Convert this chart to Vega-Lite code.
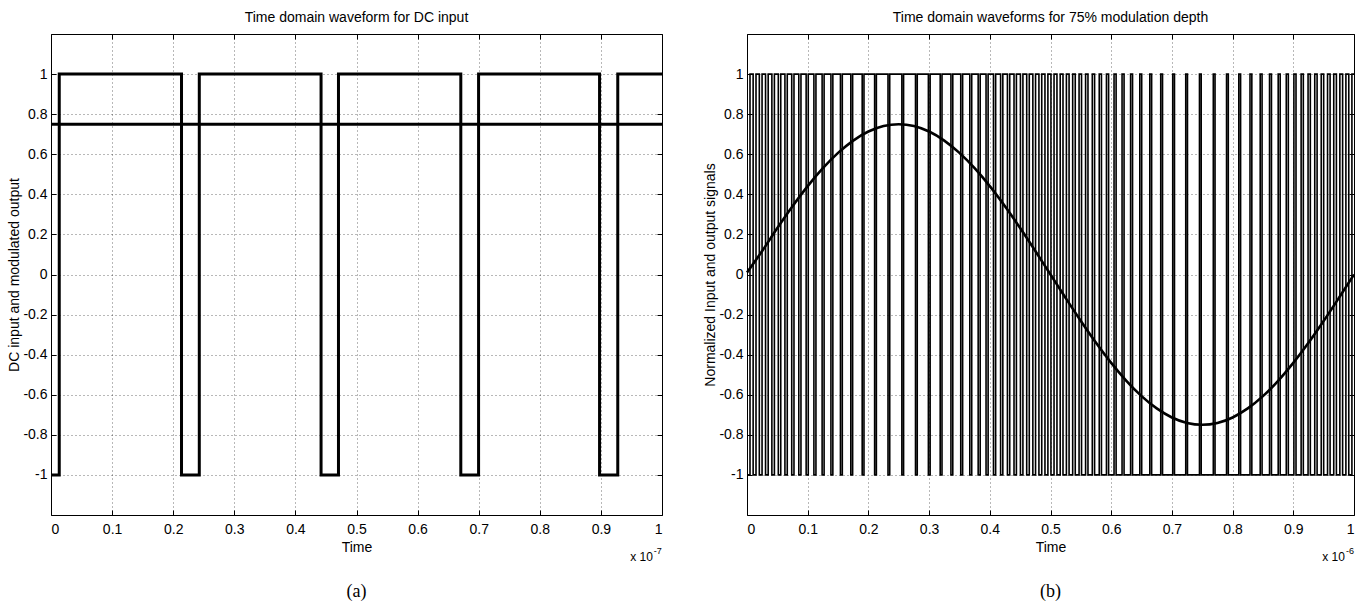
{
  "$schema": "https://vega.github.io/schema/vega-lite/v6.json",
  "background": "white",
  "padding": {"left": 7, "top": 10, "right": 6, "bottom": 2},
  "bounds": "flush",
  "spacing": 85,
  "config": {
    "font": "Liberation Sans",
    "view": {"stroke": "black", "strokeWidth": 1},
    "title": {"font": "Liberation Sans", "fontSize": 14, "fontWeight": "normal", "color": "black", "offset": 9},
    "axis": {
      "labelFont": "Liberation Sans", "labelFontSize": 14, "labelColor": "black",
      "titleFont": "Liberation Sans", "titleFontSize": 14, "titleFontWeight": "normal", "titleColor": "black",
      "domain": false, "tickColor": "black", "tickSize": -5, "tickWidth": 1,
      "gridColor": "black", "gridDash": [1, 3], "gridOpacity": 0.7, "gridWidth": 0.8
    }
  },
  "datasets": {
    "sqA": [
      {"t": 0, "v": -1}, {"t": 0.0135, "v": 1}, {"t": 0.2136, "v": -1}, {"t": 0.2427, "v": 1},
      {"t": 0.442, "v": -1}, {"t": 0.4705, "v": 1}, {"t": 0.6707, "v": -1}, {"t": 0.6998, "v": 1},
      {"t": 0.8978, "v": -1}, {"t": 0.9276, "v": 1}, {"t": 1.0, "v": 1}
    ],
    "dcA": [{"t": 0, "v": 0.75}, {"t": 1, "v": 0.75}],
    "capA": [{"t": 0.5, "y": -1.585, "label": "(a)", "e1": "x 10", "e2": "-7", "te": 0.985, "ye": -1.41}],
    "capB": [{"t": 0.5, "y": -1.585, "label": "(b)", "e1": "x 10", "e2": "-6", "te": 0.985, "ye": -1.41}],
    "sine": [
      {"t": 0, "v": 0.01}, {"t": 0.025, "v": 0.1173}, {"t": 0.05, "v": 0.2318}, {"t": 0.075, "v": 0.3405},
      {"t": 0.1, "v": 0.4408}, {"t": 0.125, "v": 0.5303}, {"t": 0.15, "v": 0.6068}, {"t": 0.175, "v": 0.6683},
      {"t": 0.2, "v": 0.7133}, {"t": 0.225, "v": 0.7408}, {"t": 0.25, "v": 0.75}, {"t": 0.275, "v": 0.7408},
      {"t": 0.3, "v": 0.7133}, {"t": 0.325, "v": 0.6683}, {"t": 0.35, "v": 0.6068}, {"t": 0.375, "v": 0.5303},
      {"t": 0.4, "v": 0.4408}, {"t": 0.425, "v": 0.3405}, {"t": 0.45, "v": 0.2318}, {"t": 0.475, "v": 0.1173},
      {"t": 0.5, "v": 0}, {"t": 0.525, "v": -0.1173}, {"t": 0.55, "v": -0.2318}, {"t": 0.575, "v": -0.3405},
      {"t": 0.6, "v": -0.4408}, {"t": 0.625, "v": -0.5303}, {"t": 0.65, "v": -0.6068}, {"t": 0.675, "v": -0.6683},
      {"t": 0.7, "v": -0.7133}, {"t": 0.725, "v": -0.7408}, {"t": 0.75, "v": -0.75}, {"t": 0.775, "v": -0.7408},
      {"t": 0.8, "v": -0.7133}, {"t": 0.825, "v": -0.6683}, {"t": 0.85, "v": -0.6068}, {"t": 0.875, "v": -0.5303},
      {"t": 0.9, "v": -0.4408}, {"t": 0.925, "v": -0.3405}, {"t": 0.95, "v": -0.2318}, {"t": 0.975, "v": -0.1173},
      {"t": 1.0, "v": 0}
    ],
    "sqB": [
      {"t": 0, "v": -1}, {"t": 0.00494, "v": 1}, {"t": 0.01012, "v": -1}, {"t": 0.01484, "v": 1},
      {"t": 0.02029, "v": -1}, {"t": 0.02481, "v": 1}, {"t": 0.03056, "v": -1}, {"t": 0.0349, "v": 1},
      {"t": 0.04097, "v": -1}, {"t": 0.04514, "v": 1}, {"t": 0.05159, "v": -1}, {"t": 0.0556, "v": 1},
      {"t": 0.06247, "v": -1}, {"t": 0.06633, "v": 1}, {"t": 0.07368, "v": -1}, {"t": 0.0774, "v": 1},
      {"t": 0.0853, "v": -1}, {"t": 0.0889, "v": 1}, {"t": 0.09744, "v": -1}, {"t": 0.10092, "v": 1},
      {"t": 0.11021, "v": -1}, {"t": 0.11358, "v": 1}, {"t": 0.12376, "v": -1}, {"t": 0.12702, "v": 1},
      {"t": 0.13826, "v": -1}, {"t": 0.14143, "v": 1}, {"t": 0.15394, "v": -1}, {"t": 0.15702, "v": 1},
      {"t": 0.17103, "v": -1}, {"t": 0.17404, "v": 1}, {"t": 0.18977, "v": -1}, {"t": 0.19271, "v": 1},
      {"t": 0.21025, "v": -1}, {"t": 0.21314, "v": 1}, {"t": 0.23228, "v": -1}, {"t": 0.23514, "v": 1},
      {"t": 0.25511, "v": -1}, {"t": 0.25797, "v": 1}, {"t": 0.2776, "v": -1}, {"t": 0.28048, "v": 1},
      {"t": 0.2988, "v": -1}, {"t": 0.30172, "v": 1}, {"t": 0.31827, "v": -1}, {"t": 0.32125, "v": 1},
      {"t": 0.33597, "v": -1}, {"t": 0.33902, "v": 1}, {"t": 0.35213, "v": -1}, {"t": 0.35526, "v": 1},
      {"t": 0.36701, "v": -1}, {"t": 0.37023, "v": 1}, {"t": 0.38084, "v": -1}, {"t": 0.38416, "v": 1},
      {"t": 0.39381, "v": -1}, {"t": 0.39724, "v": 1}, {"t": 0.40608, "v": -1}, {"t": 0.40963, "v": 1},
      {"t": 0.41779, "v": -1}, {"t": 0.42146, "v": 1}, {"t": 0.42903, "v": -1}, {"t": 0.43283, "v": 1},
      {"t": 0.43989, "v": -1}, {"t": 0.44383, "v": 1}, {"t": 0.45045, "v": -1}, {"t": 0.45455, "v": 1},
      {"t": 0.46078, "v": -1}, {"t": 0.46504, "v": 1}, {"t": 0.47092, "v": -1}, {"t": 0.47536, "v": 1},
      {"t": 0.48093, "v": -1}, {"t": 0.48557, "v": 1}, {"t": 0.49086, "v": -1}, {"t": 0.49571, "v": 1},
      {"t": 0.50075, "v": -1}, {"t": 0.50583, "v": 1}, {"t": 0.51064, "v": -1}, {"t": 0.51598, "v": 1},
      {"t": 0.52058, "v": -1}, {"t": 0.5262, "v": 1}, {"t": 0.53061, "v": -1}, {"t": 0.53654, "v": 1},
      {"t": 0.54078, "v": -1}, {"t": 0.54706, "v": 1}, {"t": 0.55113, "v": -1}, {"t": 0.55781, "v": 1},
      {"t": 0.56173, "v": -1}, {"t": 0.56886, "v": 1}, {"t": 0.57264, "v": -1}, {"t": 0.58029, "v": 1},
      {"t": 0.58394, "v": -1}, {"t": 0.59219, "v": 1}, {"t": 0.59572, "v": -1}, {"t": 0.60468, "v": 1},
      {"t": 0.60809, "v": -1}, {"t": 0.61788, "v": 1}, {"t": 0.62119, "v": -1}, {"t": 0.63196, "v": 1},
      {"t": 0.63517, "v": -1}, {"t": 0.64713, "v": 1}, {"t": 0.65025, "v": -1}, {"t": 0.66359, "v": 1},
      {"t": 0.66663, "v": -1}, {"t": 0.6816, "v": 1}, {"t": 0.68457, "v": -1}, {"t": 0.70135, "v": 1},
      {"t": 0.70426, "v": -1}, {"t": 0.72279, "v": 1}, {"t": 0.72566, "v": -1}, {"t": 0.74542, "v": 1},
      {"t": 0.74828, "v": -1}, {"t": 0.7682, "v": 1}, {"t": 0.77107, "v": -1}, {"t": 0.79002, "v": 1},
      {"t": 0.79292, "v": -1}, {"t": 0.81023, "v": 1}, {"t": 0.81318, "v": -1}, {"t": 0.82866, "v": 1},
      {"t": 0.83168, "v": -1}, {"t": 0.84545, "v": 1}, {"t": 0.84855, "v": -1}, {"t": 0.86085, "v": 1},
      {"t": 0.86403, "v": -1}, {"t": 0.8751, "v": 1}, {"t": 0.87838, "v": -1}, {"t": 0.88842, "v": 1},
      {"t": 0.8918, "v": -1}, {"t": 0.90097, "v": 1}, {"t": 0.90447, "v": -1}, {"t": 0.9129, "v": 1},
      {"t": 0.91652, "v": -1}, {"t": 0.92432, "v": 1}, {"t": 0.92806, "v": -1}, {"t": 0.93533, "v": 1},
      {"t": 0.93921, "v": -1}, {"t": 0.94601, "v": 1}, {"t": 0.95004, "v": -1}, {"t": 0.95642, "v": 1},
      {"t": 0.96061, "v": -1}, {"t": 0.96663, "v": 1}, {"t": 0.97099, "v": -1}, {"t": 0.97669, "v": 1},
      {"t": 0.98124, "v": -1}, {"t": 0.98665, "v": 1}, {"t": 0.9914, "v": -1}, {"t": 0.99655, "v": 1},
      {"t": 1.0, "v": 1}
    ]
  },
  "hconcat": [
    {
      "width": 611,
      "height": 481,
      "title": {"text": "Time domain waveform for DC input"},
      "layer": [
        {
          "data": {"name": "sqA"},
          "mark": {"type": "line", "interpolate": "step-after", "color": "black", "strokeWidth": 3, "clip": true},
          "encoding": {
            "x": {"field": "t", "type": "quantitative", "scale": {"domain": [0, 1], "nice": false, "zero": false},
              "axis": {"orient": "bottom", "title": "Time", "values": [0, 0.1, 0.2, 0.3, 0.4, 0.5, 0.6, 0.7, 0.8, 0.9, 1], "format": "~g", "labelPadding": 12, "titlePadding": 4, "grid": true}},
            "y": {"field": "v", "type": "quantitative", "scale": {"domain": [-1.2, 1.2], "nice": false, "zero": false},
              "axis": {"orient": "left", "title": "DC input and modulated output", "values": [-1, -0.8, -0.6, -0.4, -0.2, 0, 0.2, 0.4, 0.6, 0.8, 1], "labelExpr": "datum.value < 0 ? '-' + format(-datum.value, '~g') : format(datum.value, '~g')", "labelPadding": 9, "titlePadding": 1, "grid": true}}
          }
        },
        {
          "data": {"name": "dcA"},
          "mark": {"type": "line", "color": "black", "strokeWidth": 3},
          "encoding": {
            "x": {"field": "t", "type": "quantitative", "scale": {"domain": [0, 1]},
              "axis": {"orient": "top", "values": [0, 0.1, 0.2, 0.3, 0.4, 0.5, 0.6, 0.7, 0.8, 0.9, 1], "labels": false, "title": null, "grid": false}},
            "y": {"field": "v", "type": "quantitative", "scale": {"domain": [-1.2, 1.2]},
              "axis": {"orient": "right", "values": [-1, -0.8, -0.6, -0.4, -0.2, 0, 0.2, 0.4, 0.6, 0.8, 1], "labels": false, "title": null, "grid": false}}
          }
        },
        {
          "data": {"name": "capA"},
          "mark": {"type": "text", "font": "Liberation Serif", "fontSize": 18, "color": "black", "baseline": "middle", "align": "center"},
          "encoding": {
            "x": {"field": "t", "type": "quantitative", "axis": null},
            "y": {"field": "y", "type": "quantitative", "axis": null},
            "text": {"field": "label"}
          }
        },
        {
          "data": {"name": "capA"},
          "mark": {"type": "text", "fontSize": 12, "color": "black", "baseline": "middle", "align": "right"},
          "encoding": {
            "x": {"field": "te", "type": "quantitative", "axis": null},
            "y": {"field": "ye", "type": "quantitative", "axis": null},
            "text": {"field": "e1"}
          }
        },
        {
          "data": {"name": "capA"},
          "mark": {"type": "text", "fontSize": 9, "color": "black", "baseline": "middle", "align": "left", "dx": 1, "dy": -6},
          "encoding": {
            "x": {"field": "te", "type": "quantitative", "axis": null},
            "y": {"field": "ye", "type": "quantitative", "axis": null},
            "text": {"field": "e2"}
          }
        }
      ]
    },
    {
      "width": 607,
      "height": 481,
      "title": {"text": "Time domain waveforms for 75% modulation depth"},
      "layer": [
        {
          "data": {"name": "sqB"},
          "mark": {"type": "line", "interpolate": "step-after", "color": "black", "strokeWidth": 1.6, "clip": true},
          "encoding": {
            "x": {"field": "t", "type": "quantitative", "scale": {"domain": [0, 1], "nice": false, "zero": false},
              "axis": {"orient": "bottom", "title": "Time", "values": [0, 0.1, 0.2, 0.3, 0.4, 0.5, 0.6, 0.7, 0.8, 0.9, 1], "format": "~g", "labelPadding": 12, "titlePadding": 4, "grid": true}},
            "y": {"field": "v", "type": "quantitative", "scale": {"domain": [-1.2, 1.2], "nice": false, "zero": false},
              "axis": {"orient": "left", "title": "Normalized Input and output signals", "values": [-1, -0.8, -0.6, -0.4, -0.2, 0, 0.2, 0.4, 0.6, 0.8, 1], "labelExpr": "datum.value < 0 ? '-' + format(-datum.value, '~g') : format(datum.value, '~g')", "labelPadding": 9, "titlePadding": 1, "grid": true}}
          }
        },
        {
          "data": {"name": "sine"},
          "mark": {"type": "line", "interpolate": "monotone", "color": "black", "strokeWidth": 2.6},
          "encoding": {
            "x": {"field": "t", "type": "quantitative", "scale": {"domain": [0, 1]},
              "axis": {"orient": "top", "values": [0, 0.1, 0.2, 0.3, 0.4, 0.5, 0.6, 0.7, 0.8, 0.9, 1], "labels": false, "title": null, "grid": false}},
            "y": {"field": "v", "type": "quantitative", "scale": {"domain": [-1.2, 1.2]},
              "axis": {"orient": "right", "values": [-1, -0.8, -0.6, -0.4, -0.2, 0, 0.2, 0.4, 0.6, 0.8, 1], "labels": false, "title": null, "grid": false}}
          }
        },
        {
          "data": {"name": "capB"},
          "mark": {"type": "text", "font": "Liberation Serif", "fontSize": 18, "color": "black", "baseline": "middle", "align": "center"},
          "encoding": {
            "x": {"field": "t", "type": "quantitative", "axis": null},
            "y": {"field": "y", "type": "quantitative", "axis": null},
            "text": {"field": "label"}
          }
        },
        {
          "data": {"name": "capB"},
          "mark": {"type": "text", "fontSize": 12, "color": "black", "baseline": "middle", "align": "right"},
          "encoding": {
            "x": {"field": "te", "type": "quantitative", "axis": null},
            "y": {"field": "ye", "type": "quantitative", "axis": null},
            "text": {"field": "e1"}
          }
        },
        {
          "data": {"name": "capB"},
          "mark": {"type": "text", "fontSize": 9, "color": "black", "baseline": "middle", "align": "left", "dx": 1, "dy": -6},
          "encoding": {
            "x": {"field": "te", "type": "quantitative", "axis": null},
            "y": {"field": "ye", "type": "quantitative", "axis": null},
            "text": {"field": "e2"}
          }
        }
      ]
    }
  ]
}
